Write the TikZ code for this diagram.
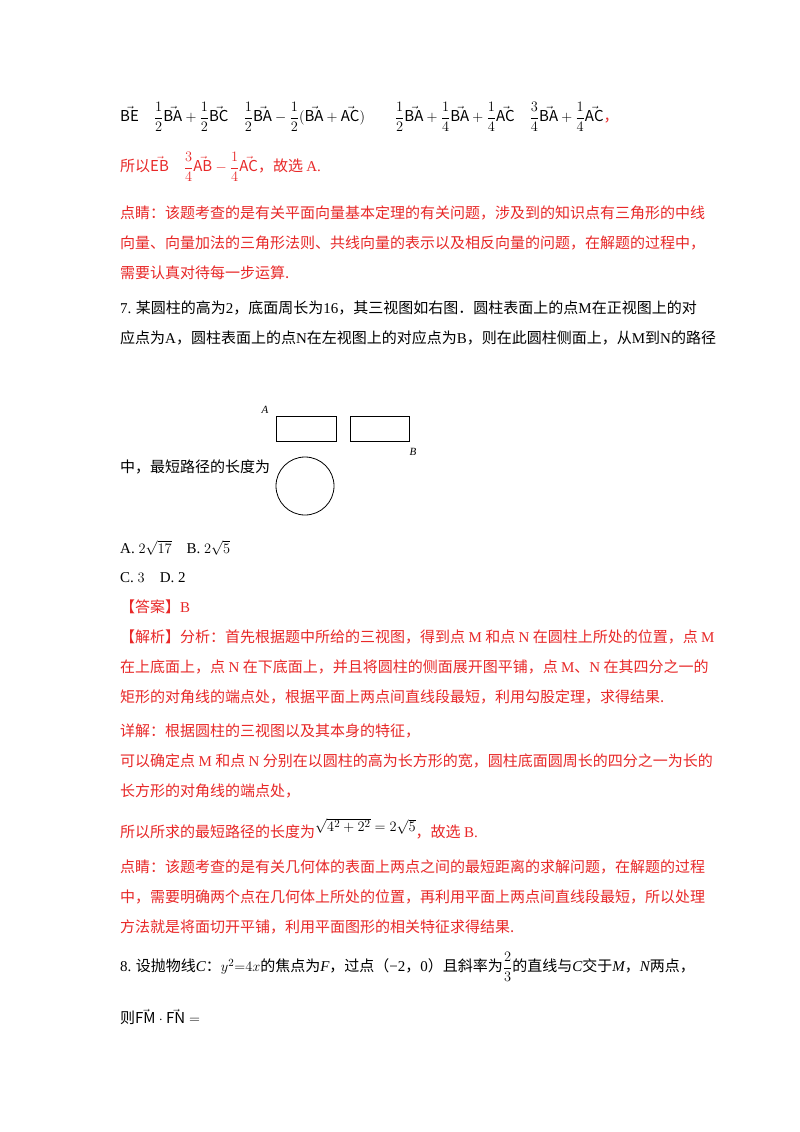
\documentclass[tikz,border=0pt]{standalone}
\usepackage{fontspec}
\setmainfont{Noto Sans CJK SC}
\newfontfamily\lat{Liberation Serif}
\definecolor{ansred}{RGB}{232,40,40}
\begin{document}
\begin{tikzpicture}[x=1pt,y=-1pt,
  ln/.style={anchor=west,inner sep=0pt,font=\fontsize{15}{18}\selectfont},
  rd/.style={ln,text=ansred},
  lbl/.style={inner sep=0pt,font=\lat\itshape\fontsize{11}{12}\selectfont}]
\useasboundingbox[fill=white] (0,0) rectangle (800,1132);
\node[ln] (l1) at (120,117) {$\displaystyle\mathrm{\vec{BE}}\quad\frac12\mathrm{\vec{BA}}+\frac12\mathrm{\vec{BC}}\quad\frac12\mathrm{\vec{BA}}-\frac12(\mathrm{\vec{BA}}+\mathrm{\vec{AC}})\qquad\frac12\mathrm{\vec{BA}}+\frac14\mathrm{\vec{BA}}+\frac14\mathrm{\vec{AC}}\quad\frac34\mathrm{\vec{BA}}+\frac14\mathrm{\vec{AC}}$\textcolor{ansred}{，}};
\node[rd] (l2) at (120,167) {所以$\displaystyle\mathrm{\vec{EB}}\quad\frac34\mathrm{\vec{AB}}-\frac14\mathrm{\vec{AC}}$，故选 {\lat A.}};
\node[rd] (l3) at (120,213) {点睛：该题考查的是有关平面向量基本定理的有关问题，涉及到的知识点有三角形的中线};
\node[rd] (l4) at (120,243) {向量、向量加法的三角形法则、共线向量的表示以及相反向量的问题，在解题的过程中，};
\node[rd] (l5) at (120,273) {需要认真对待每一步运算.};
\node[ln] (l6) at (120,308) {{\lat 7.} 某圆柱的高为{\lat 2}，底面周长为{\lat 16}，其三视图如右图．圆柱表面上的点{\lat M}在正视图上的对};
\node[ln] (l7) at (120,338) {应点为{\lat A}，圆柱表面上的点{\lat N}在左视图上的对应点为{\lat B}，则在此圆柱侧面上，从{\lat M}到{\lat N}的路径};
% figure
\node[lbl] (la) at (265,410) {A};
\draw[line width=0.9pt] (276,416) rectangle (336,441);
\draw[line width=0.9pt] (350,416) rectangle (409,441);
\node[lbl] (lb) at (413,452) {B};
\draw[line width=0.8pt] (305,486) circle (29);
\node[ln] (l8) at (120,467) {中，最短路径的长度为};
\node[ln] (l9) at (120,548) {\lat A. $2\sqrt{17}$\quad B. $2\sqrt5$};
\node[ln] (l10) at (120,578) {\lat C. $3$\quad D. 2};
\node[rd] (l11) at (120,607) {【答案】{\lat B}};
\node[rd] (l12) at (120,637) {【解析】分析：首先根据题中所给的三视图，得到点 {\lat M} 和点 {\lat N} 在圆柱上所处的位置，点 {\lat M}};
\node[rd] (l13) at (120,667) {在上底面上，点 {\lat N} 在下底面上，并且将圆柱的侧面展开图平铺，点 {\lat M}、{\lat N} 在其四分之一的};
\node[rd] (l14) at (120,697) {矩形的对角线的端点处，根据平面上两点间直线段最短，利用勾股定理，求得结果.};
\node[rd] (l15) at (120,731) {详解：根据圆柱的三视图以及其本身的特征，};
\node[rd] (l16) at (120,761) {可以确定点 {\lat M} 和点 {\lat N} 分别在以圆柱的高为长方形的宽，圆柱底面圆周长的四分之一为长的};
\node[rd] (l17) at (120,791) {长方形的对角线的端点处，};
\node[rd] (l18) at (120,829) {所以所求的最短路径的长度为\raisebox{6pt}{\textcolor{black}{$\sqrt{4^2+2^2}=2\sqrt5$}}，故选 {\lat B.}};
\node[rd] (l19) at (120,867) {点睛：该题考查的是有关几何体的表面上两点之间的最短距离的求解问题，在解题的过程};
\node[rd] (l20) at (120,897) {中，需要明确两个点在几何体上所处的位置，再利用平面上两点间直线段最短，所以处理};
\node[rd] (l21) at (120,927) {方法就是将面切开平铺，利用平面图形的相关特征求得结果.};
\node[ln] (l22) at (120,967) {{\lat 8.} 设抛物线{\lat\itshape C}：$y^2{=}4x$的焦点为{\lat\itshape F}，过点（{\lat −2}，{\lat 0}）且斜率为$\displaystyle\frac23$的直线与{\lat\itshape C}交于{\lat\itshape M}，{\lat\itshape N}两点，};
\node[ln] (l23) at (120,1017) {则$\mathrm{\vec{FM}}\cdot\mathrm{\vec{FN}}=$};
\end{tikzpicture}
\end{document}
